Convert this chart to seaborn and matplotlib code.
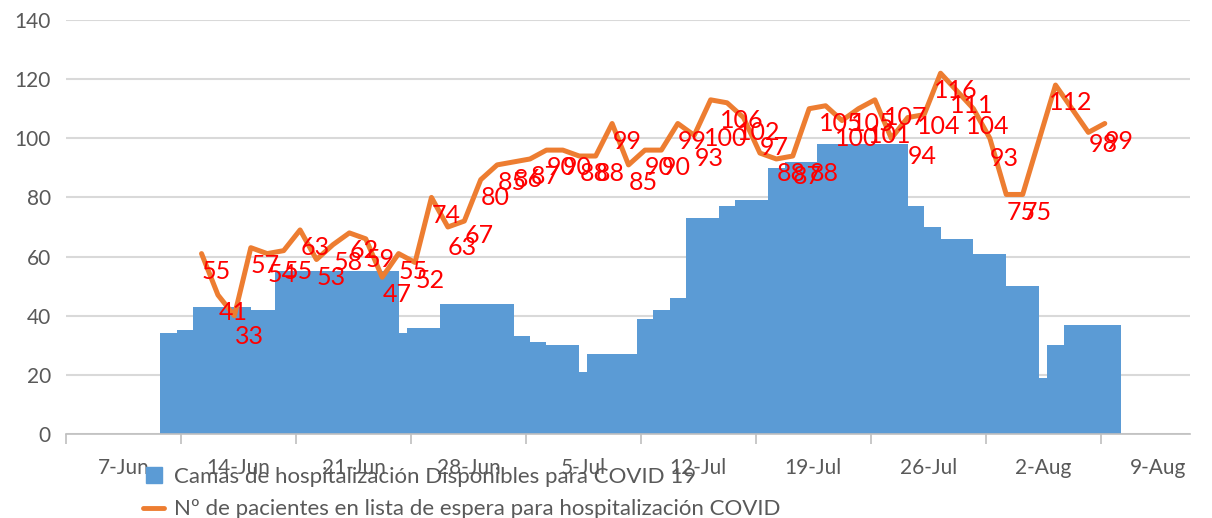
import matplotlib
matplotlib.use("Agg")
import matplotlib.pyplot as plt
import seaborn as sns
from matplotlib.lines import Line2D

# ---------------- data (x = day offset from the "7-Jun" axis label) ----------------
week_labels = ["7-Jun", "14-Jun", "21-Jun", "28-Jun", "5-Jul",
               "12-Jul", "19-Jul", "26-Jul", "2-Aug", "9-Aug"]

# available COVID-19 beds: value holds from each change day until the next one
bed_from_day = [2.5, 3.5, 4.5, 8.0, 9.5, 17.0, 17.5, 19.5, 24.0, 25.0,
                26.0, 28.0, 28.5, 31.5, 32.5, 33.5, 34.5, 36.5, 37.5, 39.5,
                40.5, 42.5, 48.0, 49.0, 50.0, 52.0, 54.0, 56.0, 56.5, 57.5]
bed_until_day = 61.0
bed_values = [34, 35, 43, 42, 55, 34, 36, 44, 33, 31,
              30, 21, 27, 39, 42, 46, 73, 77, 79, 90,
              92, 98, 77, 70, 66, 61, 50, 19, 30, 37]

# patients waiting for hospitalisation
wait_days = [5, 6, 7, 8, 9, 10, 11, 12, 13, 14,
             15, 16, 17, 18, 19, 20, 21, 22, 23, 24,
             25, 26, 27, 28, 29, 30, 31, 32, 33, 34,
             35, 36, 37, 38, 39, 40, 41, 42, 43, 44,
             45, 46, 47, 48, 49, 50, 51, 52, 53, 54,
             55, 57, 59, 60]
wait_values = [61, 47, 40, 63, 61, 62, 69, 59, 64, 68,
               66, 53, 61, 58, 80, 70, 72, 86, 91, 92,
               93, 96, 96, 94, 94, 105, 91, 96, 96, 105,
               101, 113, 112, 107, 95, 93, 94, 110, 111, 106,
               110, 113, 100, 107, 108, 122, 116, 110, 100, 81,
               81, 118, 102, 105]
label_values = [55, 41, 33, 57, 54, 55, 63, 53, 58, 62,
                59, 47, 55, 52, 74, 63, 67, 80, 85, 86,
                87, 90, 90, 88, 88, 99, 85, 90, 90, 99,
                93, 100, 106, 102, 97, 88, 87, 88, 105, 100,
                105, 101, 107, 94, 104, 116, 111, 104, 93, 75,
                75, 112, 98, 99]

legend_labels = ["Camas de hospitalización Disponibles para COVID 19",
                 "Nº de pacientes en lista de espera para hospitalización COVID"]

# ---------------- style ----------------
BLUE = "#5B9BD5"
ORANGE = "#ED7D31"
GRAY_TXT = "#595959"
GRID = "#D9D9D9"

sns.set_theme(style="white")
plt.rcParams["font.family"] = ["Lato", "DejaVu Sans"]

fig = plt.figure(figsize=(12.12, 5.18), dpi=100)
ax = fig.add_axes([0.0545, 0.1622, 0.9275, 0.7992])

edges = bed_from_day + [bed_until_day]
mids = [(a + b) / 2 for a, b in zip(edges[:-1], edges[1:])]
sns.histplot(x=mids, weights=bed_values, bins=edges, element="step", fill=True,
             color=BLUE, alpha=1, linewidth=0, edgecolor=BLUE, ax=ax, zorder=2)

sns.lineplot(x=wait_days, y=wait_values, color=ORANGE, linewidth=3.6, ax=ax,
             zorder=3, solid_joinstyle="round", solid_capstyle="round")

for d, v in zip(wait_days, label_values):
    ax.text(d + 0.9, v, str(v), color="#FF0000", fontsize=18,
            ha="center", va="center", zorder=4)

# axes
ax.set_ylim(0, 140)
ax.set_xlim(-3.25, 65.2)
ax.set_yticks(range(0, 141, 20))
ax.yaxis.grid(True, color=GRID, linewidth=1.5)
ax.set_axisbelow(True)
ax.tick_params(axis="y", length=0, pad=11, labelsize=15, labelcolor=GRAY_TXT)

ax.set_xticks([-3.25 + 7 * k for k in range(10)])
ax.set_xticklabels([])
ax.set_xticks([0.25 + 7 * k for k in range(10)], minor=True)
ax.set_xticklabels(week_labels, minor=True)
ax.tick_params(axis="x", which="major", length=7, width=1.2, color="#BFBFBF",
               direction="out", bottom=True)
ax.tick_params(axis="x", which="minor", length=0, pad=17, labelsize=15,
               labelcolor=GRAY_TXT)
ax.set_xlabel("")
ax.set_ylabel("")
for s in ["top", "right", "left"]:
    ax.spines[s].set_visible(False)
ax.spines["bottom"].set_color("#BFBFBF")
ax.spines["bottom"].set_linewidth(1.2)

handles = [Line2D([], [], marker="s", markersize=12, linestyle="", color=BLUE),
           Line2D([], [], color=ORANGE, linewidth=3.5)]
fig.legend(handles, legend_labels, loc="upper left", bbox_to_anchor=(0.118, 0.098),
           frameon=False, fontsize=16, labelcolor=GRAY_TXT, handlelength=0.95,
           handletextpad=0.45, labelspacing=0.55, borderpad=0, borderaxespad=0)

fig.savefig("out.png", dpi=100)
